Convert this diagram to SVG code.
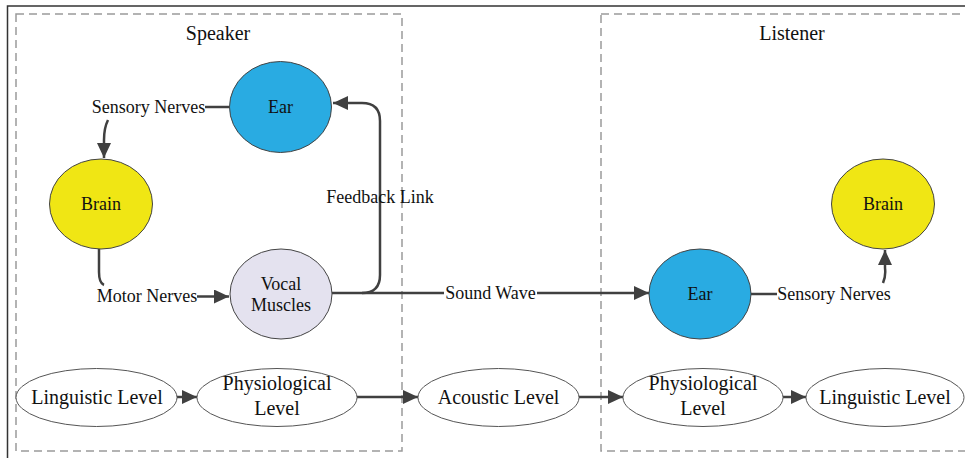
<svg xmlns="http://www.w3.org/2000/svg" width="965" height="458" viewBox="0 0 965 458">
<style>
text{font-family:"Liberation Serif","Times New Roman",serif;fill:#111;text-anchor:middle}
.s{font-size:18px}
.l{font-size:20px}
.box{fill:none;stroke:#9a9a9a;stroke-width:1.5;stroke-dasharray:8,5}
.node{stroke:#444;stroke-width:1}
.lvl{fill:#fff;stroke:#555;stroke-width:1}
.c{fill:none;stroke:#404040;stroke-width:2.5}
</style>
<defs>
<marker id="ah" markerUnits="userSpaceOnUse" viewBox="0 0 15 14" refX="15" refY="7" markerWidth="15" markerHeight="14" orient="auto">
<path d="M0,0 L15,7 L0,14 z" fill="#404040"/>
</marker>
</defs>
<rect width="965" height="458" fill="#fff"/>
<g id="frame">
<path d="M7.5,458 V6 H965" fill="none" stroke="#333" stroke-width="1.5"/>
</g>
<g id="speaker">
<rect class="box" x="16" y="14" width="386" height="437"/>
<text class="l" x="218" y="40">Speaker</text>
</g>
<g id="listener">
<rect class="box" x="601" y="14" width="380" height="437"/>
<text class="l" x="792" y="40">Listener</text>
</g>
<g id="connectors">
<path class="c" d="M229,107 H205"/>
<path class="c" d="M108,120 Q104,128 104,140 V158" marker-end="url(#ah)"/>
<path class="c" d="M99,249 V272 Q99,283 104,285"/>
<path class="c" d="M197,296.5 H229" marker-end="url(#ah)"/>
<path class="c" d="M332,293 H362 Q380,293 380,275 V121 Q380,103 362,103 H333" marker-end="url(#ah)"/>
<path class="c" d="M362,293 H444"/>
<path class="c" d="M537,293 H649" marker-end="url(#ah)"/>
<path class="c" d="M751,294 H777"/>
<path class="c" d="M883,283 Q886,276 885,268 V250" marker-end="url(#ah)"/>
<path class="c" d="M177,397 H197" marker-end="url(#ah)"/>
<path class="c" d="M357,397 H418" marker-end="url(#ah)"/>
<path class="c" d="M579,397 H623" marker-end="url(#ah)"/>
<path class="c" d="M783,397 H806" marker-end="url(#ah)"/>
<text class="s" x="148.5" y="113">Sensory Nerves</text>
<text class="s" x="147" y="302">Motor Nerves</text>
<text class="s" x="380" y="203">Feedback Link</text>
<text class="s" x="490.5" y="299">Sound Wave</text>
<text class="s" x="834" y="300">Sensory Nerves</text>
</g>
<g id="ear-speaker">
<ellipse class="node" cx="280.5" cy="107" rx="51" ry="45.5" fill="#29abe2"/>
<text class="s" x="280.5" y="113">Ear</text>
</g>
<g id="brain-speaker">
<ellipse class="node" cx="101" cy="204" rx="51.5" ry="45" fill="#f0e614"/>
<text class="s" x="101" y="210">Brain</text>
</g>
<g id="vocal-muscles">
<ellipse class="node" cx="281" cy="294" rx="51" ry="45" fill="#e4e2ef"/>
<text class="s" x="281" y="290">Vocal</text>
<text class="s" x="281" y="311">Muscles</text>
</g>
<g id="ear-listener">
<ellipse class="node" cx="700" cy="294" rx="51" ry="45" fill="#29abe2"/>
<text class="s" x="700" y="300">Ear</text>
</g>
<g id="brain-listener">
<ellipse class="node" cx="883" cy="204" rx="51.5" ry="45" fill="#f0e614"/>
<text class="s" x="883" y="210">Brain</text>
</g>
<g id="linguistic-speaker">
<ellipse class="lvl" cx="96.5" cy="397.5" rx="80.5" ry="29"/>
<text class="l" x="97" y="404">Linguistic Level</text>
</g>
<g id="physiological-speaker">
<ellipse class="lvl" cx="277" cy="397.5" rx="80" ry="29"/>
<text class="l" x="277" y="390">Physiological</text>
<text class="l" x="277" y="415">Level</text>
</g>
<g id="acoustic">
<ellipse class="lvl" cx="498.5" cy="397.5" rx="80.5" ry="29"/>
<text class="l" x="498.5" y="404">Acoustic Level</text>
</g>
<g id="physiological-listener">
<ellipse class="lvl" cx="703" cy="397.5" rx="80" ry="29"/>
<text class="l" x="703" y="390">Physiological</text>
<text class="l" x="703" y="415">Level</text>
</g>
<g id="linguistic-listener">
<ellipse class="lvl" cx="885" cy="397.5" rx="79" ry="29"/>
<text class="l" x="885" y="404">Linguistic Level</text>
</g>
</svg>
